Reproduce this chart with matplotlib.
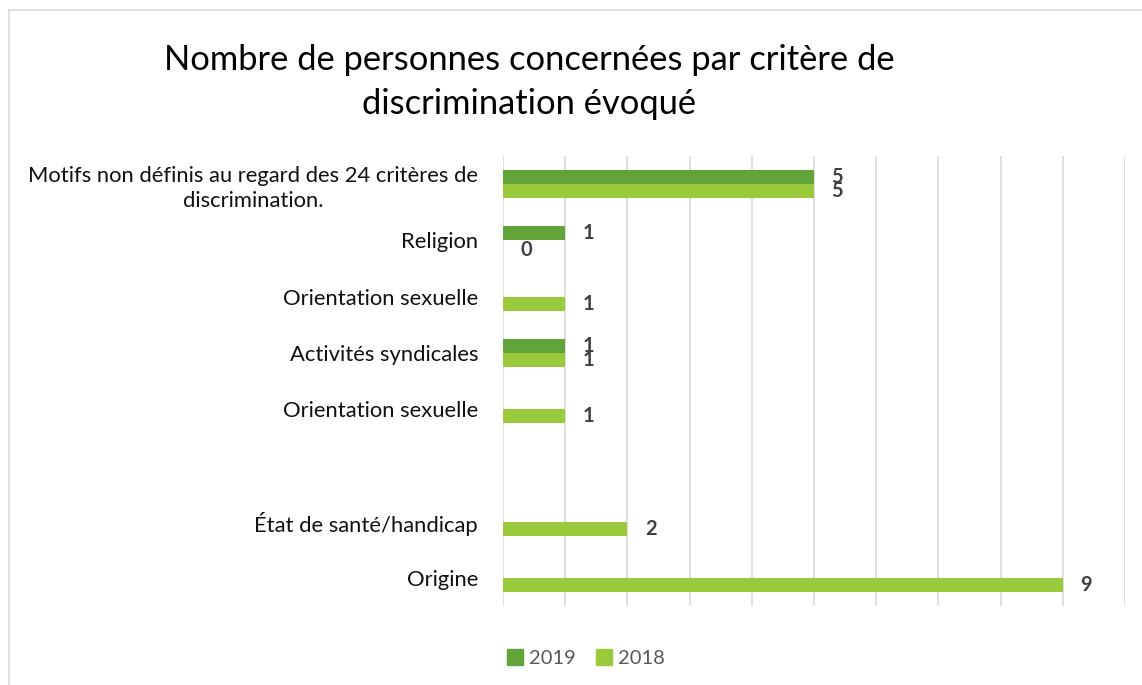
import matplotlib
matplotlib.use("Agg")
import matplotlib.pyplot as plt
from matplotlib.patches import Rectangle

categories = ["Origine", "État de santé/handicap", "", "Orientation sexuelle",
              "Activités syndicales", "Orientation sexuelle", "Religion",
              "Motifs non définis au regard des 24 critères de\ndiscrimination."]
values_2019 = [None, None, None, None, 1, None, 1, 5]
values_2018 = [9, 2, None, 1, 1, 1, 0, 5]
series_names = ["2019", "2018"]
title = "Nombre de personnes concernées par critère de\ndiscrimination évoqué"

c2019 = "#62A33A"
c2018 = "#9ACA3C"
font = "Lato"

W, H = 1142, 685
fig = plt.figure(figsize=(W / 100, H / 100), dpi=100)
fig.patch.set_facecolor("white")

# outer chart border
fig.add_artist(Rectangle((9 / W, 0 - 0.01), 1.1, (H - 10) / H + 0.01, transform=fig.transFigure,
                         fill=False, edgecolor="#D9D9D9", linewidth=1.2))

ax = fig.add_axes([503 / W, 1 - 606 / H, 622 / W, 450 / H])
ax.set_xlim(0, 10)
ax.set_ylim(-0.5, len(categories) - 0.5)

h = 0.25
pos = list(range(len(categories)))
for i, (v19, v18) in enumerate(zip(values_2019, values_2018)):
    if v19 is not None:
        ax.barh(i + h / 2, v19, height=h, color=c2019, zorder=3)
        ax.annotate(str(v19), (v19, i + h / 2), xytext=(12.5, 0), textcoords="offset points",
                    va="center", ha="left", fontsize=14.5, fontweight="bold",
                    color="#404040", family=font)
    if v18 is not None:
        ax.barh(i - h / 2, v18, height=h, color=c2018, zorder=3)
        ax.annotate(str(v18), (v18, i - h / 2), xytext=(12.5, -2 if v18 == 0 else 0),
                    textcoords="offset points",
                    va="center", ha="left", fontsize=14.5, fontweight="bold",
                    color="#404040", family=font)

ax.set_xticks(range(0, 11))
ax.set_xticklabels([])
ax.tick_params(axis="x", length=0)
ax.grid(axis="x", color="#D9D9D9", linewidth=1.2, zorder=0)
ax.set_yticks(pos)
ax.set_yticklabels(categories, fontsize=15.8, family=font, color="#111111",
                   multialignment="center", linespacing=1.3)
ax.tick_params(axis="y", length=0, pad=18)
for s in ax.spines.values():
    s.set_visible(False)

fig.text(529 / W, 1 - 82 / H, title, ha="center", va="center", fontsize=24.8,
         family=font, color="black", linespacing=1.45)

# legend
handles = [Rectangle((0, 0), 1, 1, color=c2019), Rectangle((0, 0), 1, 1, color=c2018)]
fig.legend(handles, series_names, loc="center", bbox_to_anchor=(586 / W, 1 - 658 / H),
           ncol=2, frameon=False, prop={"family": font, "size": 14.5},
           handlelength=0.8, handleheight=0.8, handletextpad=0.3, columnspacing=1.0,
           labelcolor="#595959")

fig.savefig("out.png", dpi=100)
